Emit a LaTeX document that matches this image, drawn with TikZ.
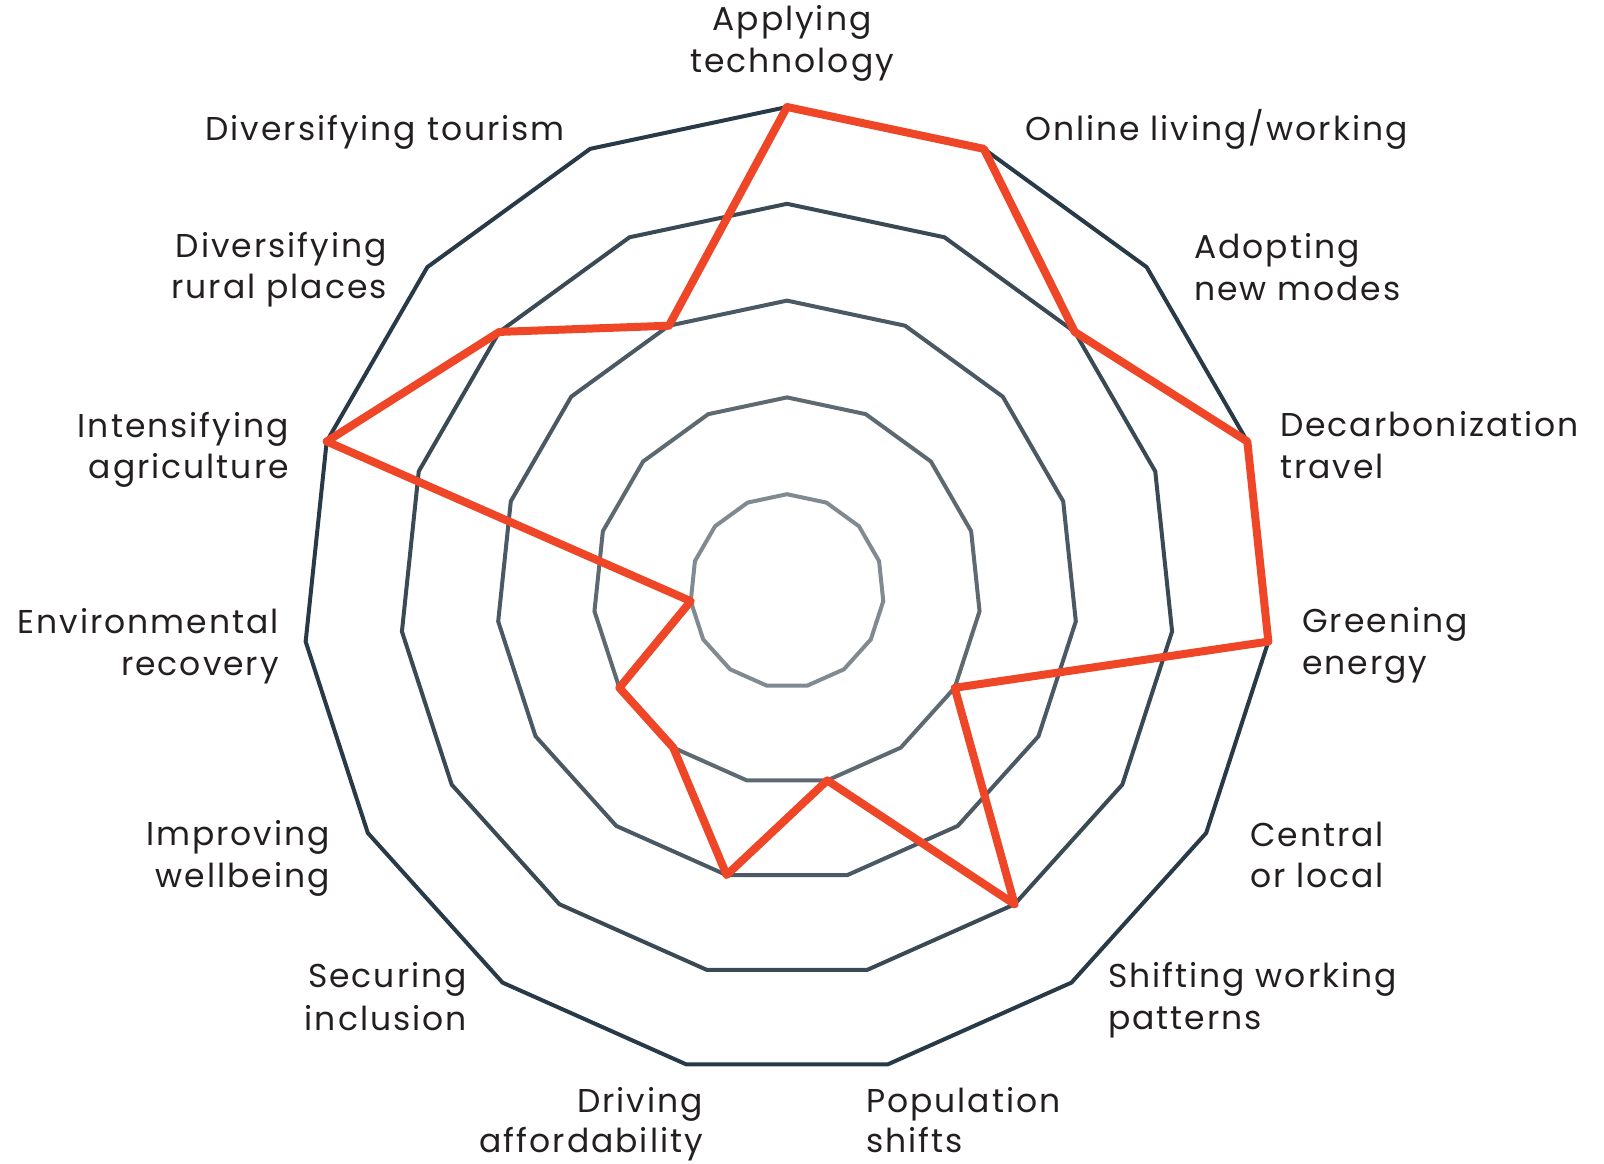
\documentclass[tikz,border=0pt]{standalone}
\usepackage{fontspec}
\setmainfont{Poppins}[LetterSpace=6]
\definecolor{ringA}{HTML}{7F8A91}
\definecolor{ringB}{HTML}{5E6A72}
\definecolor{ringC}{HTML}{4A5963}
\definecolor{ringD}{HTML}{3A4A55}
\definecolor{ringE}{HTML}{283A47}
\definecolor{redline}{HTML}{EE4626}
\definecolor{txt}{HTML}{231F20}
\begin{document}
\begin{tikzpicture}[x=1pt,y=-1pt,
  ring/.style={line width=4pt},
  redpoly/.style={line width=8pt, draw=redline, line join=round},
  lbl/.style={inner sep=0pt, font=\fontsize{33}{42}\selectfont, text=txt}]
\useasboundingbox (0,0) rectangle (1604,1163);
% rings
\foreach \lev/\col in {1/ringA,2/ringB,3/ringC,4/ringD,5/ringE} {
  \draw[ring, draw=\col] (787,{591-\lev*96.8})
    \foreach \k in {1,...,14} { -- ({787+\lev*96.8*sin(24*\k)},{591-\lev*96.8*cos(24*\k)}) } -- cycle;
}
% data
\foreach \v [count=\k from 0] in {5,5,4,5,5,2,4,2,3,2,2,1,5,4,3}
  \coordinate (p\k) at ({787+\v*96.8*sin(24*\k)},{591-\v*96.8*cos(24*\k)});
\draw[redpoly] (p0) -- (p1) -- (p2) -- (p3) -- (p4) -- (p5) -- (p6) -- (p7)
  -- (p8) -- (p9) -- (p10) -- (p11) -- (p12) -- (p13) -- (p14) -- cycle;
% labels
\node[lbl, anchor=base] (l0a) at (792,30) {Applying};
\node[lbl, anchor=base] (l0b) at (792,72) {technology};
\node[lbl, anchor=base west] (l1a) at (1025,140) {Online living/working};
\node[lbl, anchor=base west] (l2a) at (1194,258) {Adopting};
\node[lbl, anchor=base west] (l2b) at (1194,300) {new modes};
\node[lbl, anchor=base west] (l3a) at (1280,436) {Decarbonization};
\node[lbl, anchor=base west] (l3b) at (1280,478) {travel};
\node[lbl, anchor=base west] (l4a) at (1302,632) {Greening};
\node[lbl, anchor=base west] (l4b) at (1302,674) {energy};
\node[lbl, anchor=base west] (l5a) at (1250,846) {Central};
\node[lbl, anchor=base west] (l5b) at (1250,887) {or local};
\node[lbl, anchor=base west] (l6a) at (1108,987) {Shifting working};
\node[lbl, anchor=base west] (l6b) at (1108,1029) {patterns};
\node[lbl, anchor=base west] (l7a) at (866,1112) {Population};
\node[lbl, anchor=base west] (l7b) at (866,1152) {shifts};
\node[lbl, anchor=base east] (l8a) at (703,1112) {Driving};
\node[lbl, anchor=base east] (l8b) at (703,1152) {affordability};
\node[lbl, anchor=base east] (l9a) at (467,987) {Securing};
\node[lbl, anchor=base east] (l9b) at (467,1030) {inclusion};
\node[lbl, anchor=base east] (l10a) at (330,845) {Improving};
\node[lbl, anchor=base east] (l10b) at (330,887) {wellbeing};
\node[lbl, anchor=base east] (l11a) at (279,633) {Environmental};
\node[lbl, anchor=base east] (l11b) at (279,675) {recovery};
\node[lbl, anchor=base east] (l12a) at (289,437) {Intensifying};
\node[lbl, anchor=base east] (l12b) at (289,478) {agriculture};
\node[lbl, anchor=base east] (l13a) at (387,257) {Diversifying};
\node[lbl, anchor=base east] (l13b) at (387,298) {rural places};
\node[lbl, anchor=base east] (l14a) at (565,140) {Diversifying tourism};
\end{tikzpicture}
\end{document}
